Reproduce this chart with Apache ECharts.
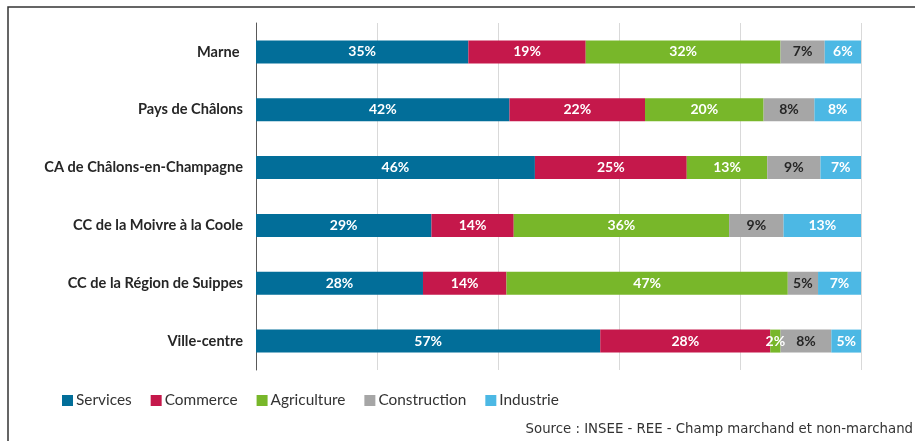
<!DOCTYPE html>
<html><head><meta charset="utf-8">
<script src="https://cdn.jsdelivr.net/npm/echarts@6/dist/echarts.min.js"></script>
<style>html,body{margin:0;padding:0;background:#fff}#c{width:915px;height:441px}</style>
</head><body><div id="c"></div>
<script>
const categories = ['Marne ', 'Pays de Châlons', 'CA de Châlons-en-Champagne', 'CC de la Moivre à la Coole', 'CC de la Région de Suippes', 'Ville-centre'];
const services     = [35.1, 41.9, 46.1, 29.0, 27.6, 56.9];
const commerce     = [19.4, 22.4, 25.1, 13.6, 13.8, 28.1];
const agriculture  = [32.2, 19.6, 13.3, 35.6, 46.5, 1.7];
const construction = [7.3, 8.4, 8.8, 9.0, 5.0, 8.4];
const industrie    = [6.0, 7.7, 6.7, 12.8, 7.1, 4.9];
const seriesNames = ['Services', 'Commerce', 'Agriculture', 'Construction', 'Industrie'];
const sourceText = 'Source : INSEE - REE - Champ marchand et non-marchand';

const colors = ['#026e99', '#c5184b', '#78b72a', '#a6a6a6', '#4cb8e4'];
const labelColors = ['#fff', '#fff', '#fff', '#262626', '#fff'];
const values = [services, commerce, agriculture, construction, industrie];
const FONT = 'Lato';

const chart = echarts.init(document.getElementById('c'), null, {renderer: 'canvas'});
chart.setOption({
  animation: false,
  textStyle: {fontFamily: FONT},
  grid: {left: 256, right: 54, top: 23, bottom: 71, containLabel: false},
  xAxis: {
    type: 'value', min: 0, max: 100, interval: 20,
    axisLabel: {show: false}, axisTick: {show: false}, axisLine: {show: false},
    splitLine: {show: true, lineStyle: {color: '#d9d9d9', width: 1}}
  },
  yAxis: {
    type: 'category', data: categories, inverse: true,
    axisTick: {show: false},
    axisLine: {show: true, lineStyle: {color: '#595959', width: 1}},
    axisLabel: {color: '#262626', fontWeight: 'bold', fontSize: 14.6, margin: 13, fontFamily: FONT}
  },
  legend: {
    left: 57, top: 388, itemWidth: 11, itemHeight: 11, itemGap: 19,
    icon: 'rect',
    textStyle: {color: '#333', fontSize: 15.4, fontFamily: FONT, padding: [0, 0, 0, -2]},
    data: seriesNames
  },
  graphic: [
    {type: 'rect', shape: {x: 8, y: 7, width: 2000, height: 2000}, style: {fill: 'none', stroke: '#333', lineWidth: 1.5}},
    {type: 'text', right: 2, top: 423, style: {text: sourceText, fill: '#333', fontSize: 13.3, fontFamily: 'DejaVu Sans'}}
  ],
  series: seriesNames.map((n, i) => ({
    name: n, type: 'bar', stack: 'total', barWidth: 23,
    data: values[i],
    itemStyle: {color: colors[i]},
    label: {
      show: true, position: 'inside', color: labelColors[i],
      fontWeight: 'bold', fontSize: 14, fontFamily: FONT,
      formatter: p => Math.round(p.value) + '%'
    }
  }))
});
</script></body></html>
